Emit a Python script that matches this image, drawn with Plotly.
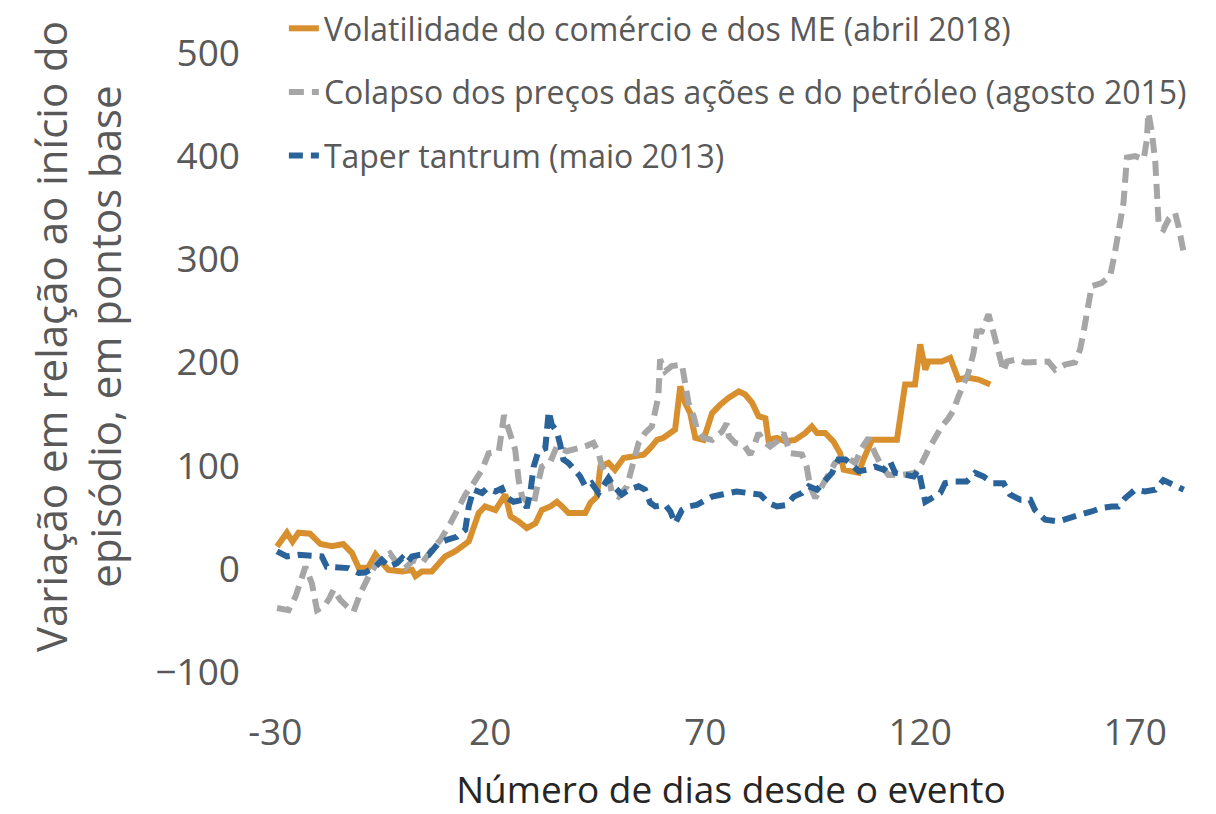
import plotly.graph_objects as go

# ---- data ----
orange_days = [-29.6, -27.3, -26, -24.6, -21.9, -19.5, -16.8, -14.2, -12.2, -10.6, -8.4, -6.7, -5.2, -3.7,
               -0.5, 1.8, 2.6, 4.1, 6.4, 8, 9.5, 11.9, 13.4, 15, 16.1, 17.3, 18.8, 21.2, 23.5, 24.7, 26.6,
               28.5, 30.5, 32, 34, 35.5, 36.7, 38.2, 42.1, 43.3, 44.8, 45.6, 47.5, 49, 51, 53.7, 55.7, 57.2,
               58.8, 60.3, 61.9, 63, 64.2, 65.3, 66.5, 67.7, 69.6, 71.6, 73.5, 75.4, 77.8, 79.3, 80.9, 82.4,
               84, 84.7, 86.7, 88.6, 90.9, 93.3, 94.8, 96, 97.9, 99.8, 101.4, 102.2, 105.7, 106.8, 108.8,
               111.9, 114.6, 116.5, 118.8, 120, 121.2, 121.9, 125, 127, 128.9, 130.5, 131.6, 133.6, 136.3]
orange_vals = [21.6, 35, 26.5, 35, 34, 24, 22, 24, 15.5, 1, 1, 14, 6, -1,
               -2.6, -1, -7, -2.6, -2.6, 4, 12, 17, 22, 26.5, 39.5, 54, 60.5, 57, 72, 51, 46,
               39.5, 44, 57, 60.5, 65, 60.5, 54, 54, 64, 70, 99, 102.6, 96, 107.5, 109.7, 110.7, 117,
               125, 127, 131.7, 135, 177, 161, 151, 127, 125, 151, 159, 165.7, 172, 169, 161, 148,
               146, 125, 127, 123.6, 125, 131.7, 138, 131.7, 131.7, 123.6, 112, 96, 93, 106, 125,
               125, 125, 178.6, 178.6, 217.5, 193, 201, 201, 204.5, 183.5, 185, 185, 183.5, 178.6]

gray_days = [-29.6, -26.9, -25.3, -23, -21.5, -20.3, -18.8, -17.6, -16.4, -14.9, -13.3, -11.8, -10.2, -8.3,
             -5.9, -3.3, -1.7, 0.2, 2.2, 4.1, 6.4, 8.4, 10.7, 12.3, 14.2, 16.1, 18.1, 19.6, 22, 23.2, 24.7,
             25.8, 26.6, 27.4, 28.9, 30.1, 30.8, 32, 34, 35.5, 37.8, 39.8, 42.1, 44, 45.2, 46, 47.5, 48.3,
             49.8, 51.8, 52.6, 54.5, 56, 57.6, 59.1, 59.5, 60.7, 62.2, 64.6, 65.3, 66.1, 67.3, 68.1, 69.6,
             71.6, 73.9, 75, 75.5, 77, 79, 80.5, 81.6, 82.4, 83.6, 85.1, 86.7, 88.2, 89.8, 92.5, 93.6, 94.4,
             95.6, 97.1, 98.7, 100.2, 102.6, 104.9, 106.4, 108, 109.5, 111.1, 112.6, 115.7, 118.8, 120.4,
             121.9, 123.5, 125, 126.6, 127.8, 128.9, 130.1, 131.2, 132.4, 133.2, 134.3, 135.9, 136.7, 137.8,
             138.6, 139.4, 140.2, 142.5, 144.4, 146.7, 149.8, 151.4, 153.7, 156, 157.2, 158, 159.2, 159.9,
             162.2, 164.2, 165.3, 166.5, 167.3, 168.1, 170, 172, 172.7, 173.1, 173.9, 174.7, 175.1, 175.5,
             176.6, 177.8, 179.3, 180.1, 181.3]
gray_vals = [-38, -40, -27, 2, -14, -40, -36.6, -30, -20, -30, -36.6, -41.5, -23.6, -7.5,
             8.7, 15, 5.5, 0.7, 8.7, 5.5, 18.4, 28, 44, 57, 72, 83, 96, 112, 114, 149, 128.5,
             115.5, 86, 70, 64, 62, 77, 99, 104, 118.7, 114, 115.5, 118.7, 122, 112, 99, 89.6, 73.5,
             70, 80, 93, 122, 131.7, 138, 167, 203, 191.5, 196.5, 198, 182, 161, 148, 135, 127,
             125, 133, 141, 128.5, 122, 120, 110.7, 122, 131.7, 123.6, 118.7, 123.6, 131.7, 112, 110.7, 99, 80,
             68.6, 80, 89.6, 102.6, 109, 102.6, 117, 127, 112, 99, 91, 91, 93, 102.6,
             115.5, 128.5, 138, 146, 154, 167, 180, 190, 209, 230, 230, 246.6, 235, 219,
             203, 191.5, 201, 203, 200, 201, 201, 193, 198, 200, 212.6, 229, 254, 274,
             277, 284, 306.5, 332, 355, 398.7, 400, 397, 415, 442, 423, 394, 361, 332,
             329, 339, 345, 332, 306.5]

blue_days = [-29.6, -27.3, -24.6, -21.5, -19.2, -18, -15.7, -13, -10.6, -9.1, -6.7, -5.2, -3.6, -1.7,
             -0.5, 0.6, 1.8, 3.7, 5.7, 6.8, 8, 9.9, 12.2, 14.2, 15, 16.1, 18.1, 19.2, 21.2, 22.7, 23.5,
             25.4, 27.7, 28.5, 29.3, 30.1, 31.2, 32.8, 33.6, 34.3, 35.5, 36.3, 37, 38.2, 39.8, 40.9, 42.1,
             43.6, 45.2, 47.5, 48.7, 50.6, 52.2, 54.5, 56, 57.2, 58.4, 60.7, 61.9, 63, 64.6, 66.1, 68, 70,
             71.6, 73.9, 76.2, 77.3, 80, 82.8, 84.7, 86.7, 89, 90.6, 92.5, 94.1, 96, 97.9, 99.5, 101,
             102.6, 104.1, 105.7, 107.6, 109.5, 111.5, 113, 114.2, 116.5, 118.5, 119.6, 120.4, 121.2,
             122.7, 124.7, 125.8, 128.1, 130.8, 132.8, 134.7, 137, 139.4, 140.9, 143.3, 145.6, 146.7,
             149.1, 152.2, 153.3, 154.9, 156.8, 159.9, 162.2, 164.6, 166.1, 167.7, 170, 172.3, 174.7,
             176.6, 179.3, 181.3]
blue_vals = [17, 12, 13.6, 12, 12, 2, 2, 0.7, -4, -3.6, 2, 8.7, 2, 5.5,
             10.4, 5.5, 12, 13.6, 13.6, 18.4, 25, 28, 31, 38, 60.5, 76.7, 73.5, 78, 75, 78, 70,
             65, 67, 59, 73.5, 99, 114, 117, 152.7, 140, 133, 120, 106, 102.6, 96, 89.6, 80,
             83, 73.5, 88, 80, 72, 76.7, 80, 76.7, 64, 60.5, 62, 55.6, 44, 57, 60.5, 62, 67,
             70, 72, 73.5, 75, 73.5, 72, 64, 60.5, 62, 70, 73.5, 80, 76.7, 86, 93, 106,
             106, 101, 94.5, 96, 99, 96, 104, 93, 91, 89.6, 96, 83, 65,
             68.6, 73.5, 83, 84.7, 84.7, 93, 89.6, 83, 83, 72, 67, 67, 57,
             47.6, 46, 47.6, 49, 52, 55.6, 59, 60.5, 60.5, 68.6, 76.7, 75, 76.7,
             86, 81.5, 76.7]

series_names = ["Volatilidade do comércio e dos ME (abril 2018)",
                "Colapso dos preços das ações e do petróleo (agosto 2015)",
                "Taper tantrum (maio 2013)"]
x_tick_vals = [-30, 20, 70, 120, 170]
x_tick_text = ["-30", "20", "70", "120", "170"]
y_tick_vals = [-100, 0, 100, 200, 300, 400, 500]
y_tick_text = ["\u2212100", "0", "100", "200", "300", "400", "500"]

FONT = "Segoe UI, Open Sans, sans-serif"

fig = go.Figure()
fig.add_trace(go.Scatter(x=orange_days, y=orange_vals, mode="lines", name=series_names[0],
                         legendgroup="a",
                         line=dict(color="#D8902F", width=6)))
fig.add_trace(go.Scatter(x=gray_days, y=gray_vals, mode="lines", name=series_names[1],
                         legendgroup="b",
                         line=dict(color="#A6A6A6", width=6, dash="15px,8px")))
fig.add_trace(go.Scatter(x=blue_days, y=blue_vals, mode="lines", name=series_names[2],
                         legendgroup="c",
                         line=dict(color="#2A6399", width=6, dash="14px,8px")))

fig.update_layout(
    width=1216, height=814,
    margin=dict(l=271, r=25, t=1, b=142),
    paper_bgcolor="white", plot_bgcolor="white",
    font=dict(family=FONT, color="#595959"),
    showlegend=True,
    legend=dict(x=0.014, y=1.0, xanchor="left", yanchor="top",
                bgcolor="rgba(255,255,255,0)", font=dict(size=32, color="#595959"),
                traceorder="grouped", tracegroupgap=19, itemwidth=30),
    xaxis=dict(range=[-31, 183], tickvals=x_tick_vals, ticktext=x_tick_text, showgrid=False,
               zeroline=False, showline=False, ticks="", automargin=False,
               tickfont=dict(size=37, color="#595959"),
               ticklabelstandoff=35,
               title=dict(text="Número de dias desde o evento", font=dict(size=37, color="#262626"),
                          standoff=33)),
    yaxis=dict(range=[-100, 550.4], tickvals=y_tick_vals, ticktext=y_tick_text, showgrid=False,
               zeroline=False, showline=False, ticks="", automargin=False,
               tickfont=dict(size=37, color="#595959"), ticklabelstandoff=30,
               title=dict(text="Variação em relação ao início do<br>episódio, em pontos base",
                          font=dict(size=42, color="#595959"), standoff=20)),
)

fig.write_html("out.html", config={"displayModeBar": False},
               post_script="document.body.style.margin='0px';")
